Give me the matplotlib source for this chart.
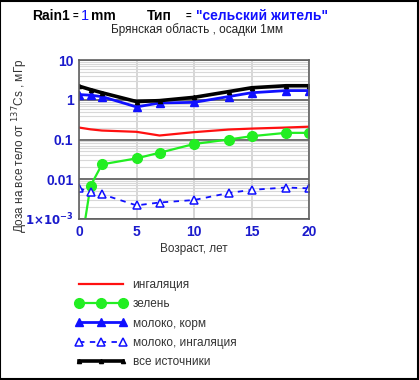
import matplotlib.pyplot as plt
from matplotlib.patches import Rectangle
from matplotlib.ticker import LogLocator, NullFormatter, FixedLocator

# data
age = [0, 1, 2, 5, 7, 10, 13, 15, 18, 20]
inhal = [0.2, 0.18, 0.168, 0.156, 0.126, 0.153, 0.178, 0.188, 0.2, 0.21]
green = [0.0001, 0.0068, 0.0237, 0.0335, 0.0464, 0.077, 0.1, 0.121, 0.147, 0.147]
milk_feed = [1.35, 1.3, 1.2, 0.66, 0.83, 0.86, 1.2, 1.5, 1.7, 1.7]
milk_inhal = [0.006, 0.0047, 0.0042, 0.0022, 0.0026, 0.003, 0.0045, 0.0054, 0.0062, 0.0059]
total = [2.2, 1.8, 1.5, 0.9, 0.95, 1.15, 1.6, 2.0, 2.25, 2.25]

series_names = ['ингаляция', 'зелень', 'молоко, корм', 'молоко, ингаляция', 'все источники']
yticks = [1e-3, 0.01, 0.1, 1, 10]
ytick_labels = [r'$\mathbf{1{\times}10^{-3}}$', '0.01', '0.1', '1', '10']
xticks = [0, 5, 10, 15, 20]

W, H = 419, 380
fig = plt.figure(figsize=(W / 100, H / 100), dpi=100)
plt.rcParams['font.family'] = ['Liberation Sans', 'DejaVu Sans']

ax = fig.add_axes([79 / W, 1 - 219 / H, 230 / W, 159 / H])
ax.set_yscale('log')
ax.set_xlim(0, 20)
ax.set_ylim(1e-3, 10)

blue = '#1010ff'
ax.plot(age, inhal, color='#ff1010', lw=1.6, label=series_names[0])
ax.plot(age, green, color='#22ee22', lw=1.6, marker='o', ms=7, label=series_names[1])
ax.plot(age, milk_feed, color=blue, lw=2, marker='^', ms=6, label=series_names[2])
ax.plot(age, milk_inhal, color=blue, lw=1.3, ls=(0, (3, 3)), marker='^', ms=6,
        mfc='white', mec=blue, mew=1.1, label=series_names[3])
ax.plot(age, total, color='black', lw=2.6, marker='^', ms=3, label=series_names[4])

# grids
ax.yaxis.set_major_locator(FixedLocator(yticks))
ax.yaxis.set_minor_locator(LogLocator(base=10, subs=range(2, 10)))
ax.yaxis.set_minor_formatter(NullFormatter())
ax.set_yticklabels(ytick_labels)
ax.set_xticks(xticks)
ax.grid(True, which='minor', axis='y', color='#d8d8d8', lw=0.8)
ax.grid(True, which='major', axis='y', color='#707070', lw=1.4)
ax.grid(True, which='major', axis='x', color='#d0d0d0', lw=1.2)
ax.set_axisbelow(True)
for s in ax.spines.values():
    s.set_color('#606060')
    s.set_linewidth(1.2)
ax.tick_params(which='both', length=0, labelcolor='#1a1acc', labelsize=10, pad=4)
for lab in ax.get_xticklabels() + ax.get_yticklabels():
    lab.set_fontweight('bold')
ax.get_yticklabels()[0].set_fontsize(8.5)

ax.set_xlabel('Возраст, лет', fontsize=8.5, color='#333333', labelpad=3)

fig.text(20 / W, 1 - 146 / H, r'Доза на все тело от $^{137}$Cs , мГр', rotation=90,
         ha='center', va='center', fontsize=8.5, color='#333333')

# header line in several colours
hy = 1 - 16 / H
fig.text(32 / W, hy, 'Rain1', fontsize=10, fontweight='bold', va='center')
fig.text(73 / W, hy, '=', fontsize=7, fontweight='bold', va='center')
fig.text(81 / W, hy, '1', fontsize=10.5, color=blue, va='center')
fig.text(91 / W, hy, 'mm', fontsize=10, fontweight='bold', va='center')
fig.text(147 / W, hy, 'Тип', fontsize=10, fontweight='bold', va='center')
fig.text(186 / W, hy, '=', fontsize=7, fontweight='bold', va='center')
fig.text(196 / W, hy, '"сельский житель"', fontsize=10, fontweight='bold',
         color=blue, va='center')
fig.text(197 / W, 1 - 30 / H, 'Брянская область , осадки 1мм', fontsize=8.5,
         color='#222222', ha='center', va='center')

fig.legend(loc='upper left', bbox_to_anchor=(70 / W, 1 - 273 / H), frameon=False,
           numpoints=3, handlelength=4.3, handletextpad=0.5, labelspacing=0.62,
           fontsize=8.5, labelcolor='#333333', borderpad=0)

fig.patches.append(Rectangle((0.001, 0.002), 0.996, 0.996, transform=fig.transFigure,
                             fill=False, ec='black', lw=1.5))

fig.savefig('out.png', dpi=100)
